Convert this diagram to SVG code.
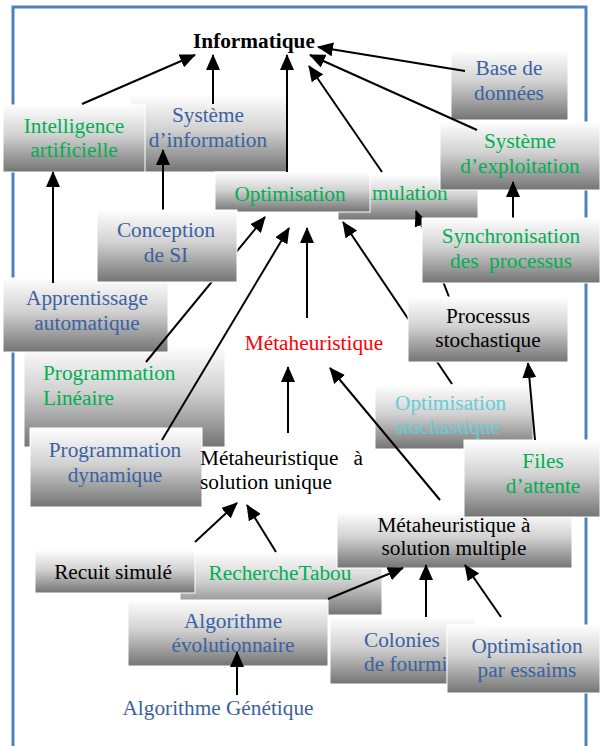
<svg xmlns="http://www.w3.org/2000/svg" width="601" height="746" viewBox="0 0 601 746">
<defs>
<linearGradient id="g" x1="0" y1="0" x2="0" y2="1">
<stop offset="0" stop-color="#fefefe"/>
<stop offset="0.45" stop-color="#d2d2d2"/>
<stop offset="1" stop-color="#747474"/>
</linearGradient>
<marker id="ah" viewBox="0 0 16 14" refX="15" refY="7" markerWidth="16" markerHeight="14" markerUnits="userSpaceOnUse" orient="auto">
<path d="M0,0 L16,7 L0,14 z" fill="#000"/>
</marker>
</defs>
<style>
.box{fill:url(#g);stroke:#ffffff;stroke-width:1}
text{font-family:"Liberation Serif","Times New Roman",serif;font-size:21.3px}
.c{text-anchor:middle}
.bl{fill:#3a62a0}
.gr{fill:#00b050}
.rd{fill:#ff0000}
.cy{fill:#66ccd6}
.bk{fill:#000000}
.conn line{stroke:#000;stroke-width:2;marker-end:url(#ah)}
</style>
<rect x="13" y="7" width="573" height="770" fill="none" stroke="#4f81bd" stroke-width="3"/>

<g id="systeme-information">
<rect class="box" x="130" y="95" width="158" height="77"/>
<text class="c bl" x="208" y="122">Système</text>
<text class="c bl" x="208" y="147">d’information</text>
</g>
<g id="intelligence-artificielle">
<rect class="box" x="3" y="105" width="142" height="67"/>
<text class="c gr" x="74" y="133">Intelligence</text>
<text class="c gr" x="74" y="157">artificielle</text>
</g>
<g id="simulation">
<rect class="box" x="338" y="175" width="140" height="45"/>
<text class="c gr" x="401" y="200">Simulation</text>
</g>
<g id="systeme-exploitation">
<rect class="box" x="440" y="122" width="160" height="68"/>
<text class="c gr" x="520" y="148">Système</text>
<text class="c gr" x="520" y="173">d’exploitation</text>
</g>
<g id="base-de-donnees">
<rect class="box" x="451" y="50" width="117" height="70"/>
<text class="c bl" x="509" y="75">Base de</text>
<text class="c bl" x="509" y="100">données</text>
</g>
<g id="optimisation">
<rect class="box" x="215" y="172" width="155" height="40"/>
<text class="c gr" x="290" y="201">Optimisation</text>
</g>
<g id="programmation-lineaire">
<rect class="box" x="24" y="345" width="201" height="102"/>
<text class="gr" x="43" y="380">Programmation</text>
<text class="gr" x="43" y="405">Linéaire</text>
</g>
<g id="apprentissage-automatique">
<rect class="box" x="3" y="278" width="165" height="74"/>
<text class="c bl" x="87" y="305">Apprentissage</text>
<text class="c bl" x="87" y="330">automatique</text>
</g>
<g id="programmation-dynamique">
<rect class="box" x="30" y="428" width="172" height="79"/>
<text class="c bl" x="115" y="457">Programmation</text>
<text class="c bl" x="115" y="482">dynamique</text>
</g>
<g id="optimisation-stochastique">
<rect class="box" x="375" y="385" width="158" height="64"/>
<text class="cy" x="395" y="410">Optimisation</text>
<text class="cy" x="395" y="434">stochastique</text>
</g>
<g id="recherche-tabou">
<rect class="box" x="180" y="552" width="202" height="63"/>
<text class="c gr" x="280" y="580">RechercheTabou</text>
</g>
<g id="recuit-simule">
<rect class="box" x="35" y="550" width="160" height="43"/>
<text class="c bk" x="113" y="579">Recuit simulé</text>
</g>
<g id="algorithme-evolutionnaire">
<rect class="box" x="128" y="600" width="200" height="66"/>
<text class="c bl" x="233" y="628">Algorithme</text>
<text class="c bl" x="233" y="652">évolutionnaire</text>
</g>
<g id="metaheuristique-solution-multiple">
<rect class="box" x="337" y="512" width="235" height="56"/>
<text class="c bk" x="454" y="532">Métaheuristique à</text>
<text class="c bk" x="454" y="555">solution multiple</text>
</g>
<g id="files-attente">
<rect class="box" x="464" y="440" width="136" height="77"/>
<text class="c gr" x="543" y="468">Files</text>
<text class="c gr" x="543" y="493">d’attente</text>
</g>
<g id="colonies-fourmis">
<rect class="box" x="330" y="617" width="145" height="67"/>
<text class="bl" x="364" y="647">Colonies</text>
<text class="bl" x="364" y="671">de fourmis</text>
</g>
<g id="optimisation-essaims">
<rect class="box" x="447" y="625" width="153" height="68"/>
<text class="c bl" x="527" y="653">Optimisation</text>
<text class="c bl" x="527" y="677">par essaims</text>
</g>
<g id="informatique">
<text class="bk" x="193" y="48" font-weight="bold">Informatique</text>
</g>
<g id="metaheuristique">
<text class="c rd" x="314" y="350">Métaheuristique</text>
</g>
<g id="metaheuristique-solution-unique">
<text class="bk" x="200" y="465">Métaheuristique<tspan x="363" text-anchor="end">à</tspan></text>
<text class="bk" x="200" y="489">solution unique</text>
</g>
<g id="algorithme-genetique">
<text class="c bl" x="218" y="715">Algorithme Génétique</text>
</g>

<g id="connectors" class="conn">
<line x1="82" y1="104" x2="195" y2="55"/>
<line x1="213" y1="104" x2="213" y2="55"/>
<line x1="287" y1="172" x2="287" y2="55"/>
<line x1="382" y1="172" x2="309" y2="66"/>
<line x1="465" y1="71" x2="318" y2="47"/>
<line x1="477" y1="130" x2="310" y2="55"/>
<line x1="163" y1="210" x2="163" y2="150"/>
<line x1="53" y1="283" x2="53" y2="172"/>
<line x1="513" y1="218" x2="513" y2="182"/>
<line x1="146" y1="362" x2="265" y2="217"/>
<line x1="162" y1="440" x2="289" y2="228"/>
<line x1="307" y1="318" x2="307" y2="228"/>
<line x1="452" y1="384" x2="343" y2="222"/>
<line x1="449" y1="297" x2="416" y2="211"/>
<line x1="535" y1="440" x2="528" y2="363"/>
<line x1="288" y1="433" x2="288" y2="367"/>
<line x1="440" y1="500" x2="330" y2="368"/>
<line x1="195" y1="542" x2="237" y2="503"/>
<line x1="276" y1="552" x2="247" y2="505"/>
<line x1="328" y1="599" x2="403" y2="568"/>
<line x1="426" y1="617" x2="426" y2="565"/>
<line x1="501" y1="617" x2="465" y2="565"/>
<line x1="237" y1="695" x2="237" y2="652"/>
</g>

<g id="conception-si">
<rect class="box" x="97" y="210" width="140" height="72"/>
<text class="c bl" x="166" y="237">Conception</text>
<text class="c bl" x="166" y="262">de SI</text>
</g>
<g id="processus-stochastique">
<rect class="box" x="408" y="297" width="160" height="65"/>
<text class="c bk" x="488" y="323">Processus</text>
<text class="c bk" x="488" y="347">stochastique</text>
</g>
<g id="synchronisation-processus">
<rect class="box" x="422" y="218" width="178" height="65"/>
<text class="c gr" x="511" y="243" xml:space="preserve">Synchronisation</text>
<text class="c gr" x="511" y="268" xml:space="preserve">des  processus</text>
</g>
</svg>
